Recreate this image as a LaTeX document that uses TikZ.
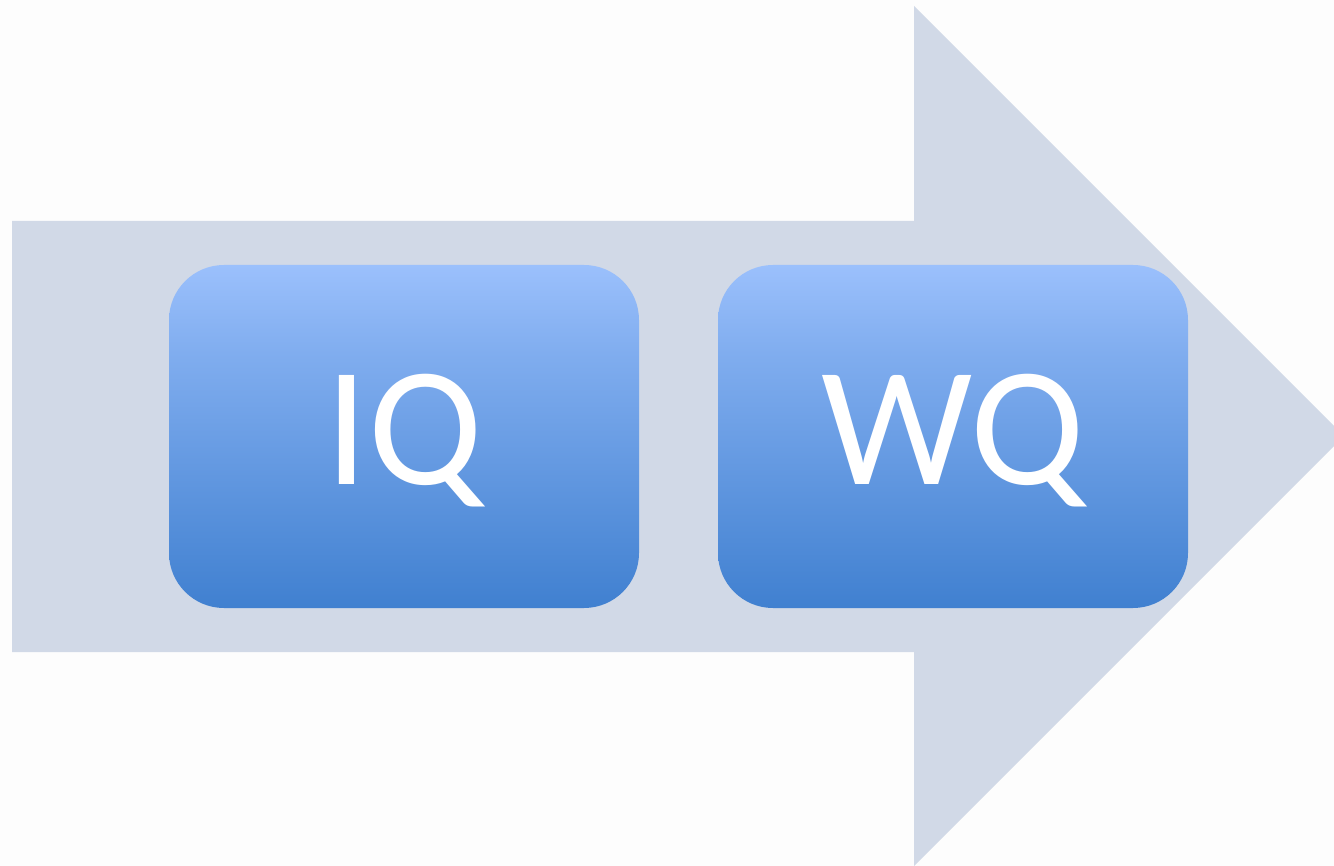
\documentclass[tikz,border=0pt]{standalone}
\usepackage{fontspec}
\setmainfont{Carlito}
\definecolor{arrowc}{HTML}{D1D9E7}
\definecolor{bgc}{HTML}{FDFDFD}
\definecolor{boxtop}{HTML}{9BC0FC}
\definecolor{boxbot}{HTML}{4080D0}
\pgfdeclareverticalshading{boxshade}{100bp}{color(0bp)=(boxbot); color(25bp)=(boxbot); color(62bp)=(boxtop!70!boxbot); color(75bp)=(boxtop); color(100bp)=(boxtop)}
\newcommand{\lowtext}[1]{\raisebox{-48.5pt}[0pt][0pt]{#1}}
\tikzset{
  stagebox/.style={rounded corners=55pt, shading=boxshade, draw=none,
    minimum width=470pt, minimum height=343pt, inner sep=0pt,
    text=white, font=\fontsize{170}{170}\selectfont},
}
\begin{document}
\begin{tikzpicture}[x=1pt,y=-1pt]
\fill[bgc] (0,0) rectangle (1334,866);
\useasboundingbox (0,0) rectangle (1334,866);
\fill[arrowc] (12,221) -- (914,221) -- (914,6) -- (1344,436) -- (914,866) -- (914,652) -- (12,652) -- cycle;
\node[stagebox] (iq) at (404,436.5) {\lowtext{IQ}};
\node[stagebox] (wq) at (953,436.5) {\lowtext{WQ}};
\end{tikzpicture}
\end{document}
